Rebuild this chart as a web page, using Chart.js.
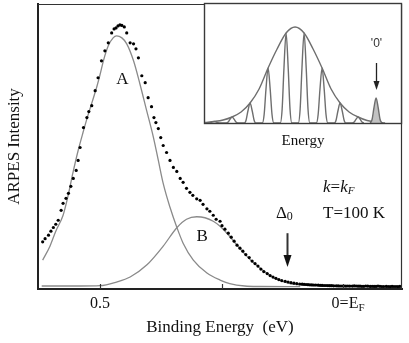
<!DOCTYPE html>
<html>
<head>
<meta charset="utf-8">
<script src="https://cdn.jsdelivr.net/npm/chart.js@4.4.1/dist/chart.umd.min.js"></script>
<style>
body { margin: 0; background: #fff; }
#wrap { position: relative; width: 409px; height: 343px; }
#main { position: absolute; left: 0; top: 0; }
#inset { position: absolute; left: 200px; top: 0; }
</style>
</head>
<body>
<div id="wrap">
  <canvas id="main" width="409" height="343"></canvas>
  <canvas id="inset" width="206" height="155"></canvas>
</div>
<script>
// measured ARPES spectrum, binding energy in eV (axis runs high -> low), intensity in arb. units
var dataBE = [0.618, 0.613, 0.606, 0.601, 0.596, 0.591, 0.586, 0.580, 0.576, 0.570, 0.565, 0.560, 0.555, 0.549, 0.545,
  0.541, 0.534, 0.527, 0.523, 0.517, 0.510, 0.504, 0.497, 0.490, 0.483, 0.476, 0.471, 0.467, 0.463, 0.459, 0.455,
  0.450, 0.445, 0.438, 0.431, 0.426, 0.421, 0.414, 0.407, 0.401, 0.394, 0.389, 0.385, 0.380, 0.375, 0.370, 0.363,
  0.356, 0.349, 0.342, 0.335, 0.329, 0.322, 0.315, 0.309, 0.301, 0.294, 0.288, 0.280, 0.274, 0.267, 0.261, 0.253,
  0.249, 0.243, 0.236, 0.230, 0.224, 0.218, 0.212, 0.206, 0.200, 0.193, 0.187, 0.181, 0.175, 0.169, 0.163, 0.156,
  0.150, 0.144, 0.138, 0.132, 0.126, 0.119, 0.113, 0.107, 0.101, 0.095,
  0.089, 0.084, 0.080, 0.076, 0.072, 0.068, 0.064, 0.060, 0.056, 0.051, 0.047, 0.043, 0.039, 0.035, 0.031, 0.027,
  0.023, 0.019, 0.014, 0.010, 0.006, 0.002, -0.002, -0.006, -0.010, -0.014, -0.019, -0.023, -0.027, -0.031,
  -0.035, -0.039, -0.043, -0.047, -0.051, -0.056, -0.060, -0.064, -0.068, -0.072, -0.076, -0.080, -0.084, -0.089,
  -0.093, -0.097, -0.101, -0.105, -0.109, -0.113, -0.117];
var dataI = [47.3, 50.5, 54, 58, 61.7, 65, 69, 79, 86, 91, 96, 103, 111, 119, 129,
  142, 162, 172, 178, 184, 199, 212, 229, 239, 247, 257, 261, 262, 264, 265, 264.5,
  263, 257, 247, 246, 241, 232, 214, 207, 192, 183, 172, 167, 161, 152, 144, 137,
  129, 122, 118, 111, 107, 101, 97, 94, 90.5, 89, 85, 80.5, 78, 74, 70, 68,
  63.5, 60, 56, 52, 48, 44, 41, 38, 34.5, 31.5, 28, 25.5, 23, 20, 17.5, 15.5,
  13.5, 12, 10.7, 9.5, 8.5, 7.7, 7, 6.3, 5.8, 5.4,
  5.0, 4.8, 4.7, 4.5, 4.3, 4.2, 4.1, 4.0, 4.0, 3.8, 3.7, 3.6, 3.5, 3.5, 3.4, 3.3,
  3.3, 3.2, 3.2, 3.1, 3.0, 3.0, 3.0, 2.9, 3.0, 2.9, 2.9, 3.1, 3.0, 2.8,
  2.8, 2.7, 2.7, 3.0, 2.8, 2.6, 2.7, 2.6, 2.6, 2.9, 2.7, 2.5, 2.5, 2.6,
  2.5, 2.4, 2.6, 2.5, 2.5, 2.4, 2.6];

// fitted component A (quasiparticle peak)
var fitABE = [0.618, 0.603, 0.591, 0.576, 0.566, 0.556, 0.545, 0.535, 0.525, 0.516, 0.506, 0.500, 0.493, 0.483,
  0.473, 0.466, 0.455, 0.445, 0.431, 0.418, 0.404, 0.390, 0.380, 0.370, 0.356, 0.342, 0.329, 0.308, 0.280,
  0.253, 0.233, 0.202, 0.171, 0.088];
var fitAI = [29, 43, 58, 74, 93, 116, 139, 157, 174, 188, 204, 215, 229, 244,
  252, 254, 252, 246, 229, 206, 179, 152, 129, 106, 82, 62, 46, 29, 16,
  9, 5.5, 3, 2.5, 2.3];

// fitted component B
var fitBBE = [0.620, 0.541, 0.500, 0.466, 0.438, 0.404, 0.370, 0.342, 0.322, 0.301, 0.284, 0.267, 0.253, 0.237,
  0.220, 0.202, 0.181, 0.160, 0.138, 0.109, 0.068, 0.006];
var fitBI = [3, 3, 3.3, 7, 12, 24, 43, 61.5, 70, 72.5, 71.5, 68, 63, 55,
  45, 35, 25, 17, 10, 5.5, 3.7, 3];

var xTicks = [0.5, 0.25, 0];
var xTickLabels = ['0.5', '', ''];

// inset: comb of peaks under a gaussian envelope
var peakPos = [-4.5, -3.5, -2.5, -1.5, -0.5, 0.5, 1.5, 2.5, 3.5];
var peakHeight = [1.5, 6, 20, 55, 90, 90, 55, 20, 6];
var zeroPeakPos = 4.5;
var zeroPeakHeight = 25;
var peakOffsets = [-0.32, -0.22, -0.12, 0, 0.12, 0.22, 0.32];
var peakProfile = [0, 0.15, 0.6, 1, 0.6, 0.15, 0];
var envX = [-5, -4.5, -4, -3.5, -3, -2.5, -2, -1.5, -1, -0.5, 0, 0.5, 1, 1.5, 2, 2.5, 3, 3.5, 4, 4.5, 5];
var envY = [0.5, 1.5, 3, 6, 11, 20, 34, 55, 74, 90, 96, 90, 74, 55, 34, 20, 11, 6, 2.5, 0.8, 0];

var SERIF = "'Liberation Serif', 'Times New Roman', serif";
var GREY = '#8a8a8a';
var INSET_GREY = '#6e6e6e';

function pts(xs, ys) {
  return xs.map(function (v, i) { return { x: v, y: ys[i] }; });
}

function peakPts(pos, h) {
  return peakOffsets.map(function (o, i) { return { x: pos + o, y: h * peakProfile[i] }; });
}

function drawPieces(ctx, x, y, pieces) {
  pieces.forEach(function (p) {
    ctx.font = p.font;
    ctx.fillText(p.t, x, y + (p.dy || 0));
    x += ctx.measureText(p.t).width;
  });
}

function arrowDown(ctx, x, y0, y1, shaft, headW, headH) {
  ctx.lineWidth = shaft;
  ctx.beginPath();
  ctx.moveTo(x, y0);
  ctx.lineTo(x, y1 - headH + 1);
  ctx.stroke();
  ctx.beginPath();
  ctx.moveTo(x - headW / 2, y1 - headH);
  ctx.lineTo(x + headW / 2, y1 - headH);
  ctx.lineTo(x, y1);
  ctx.closePath();
  ctx.fill();
}

var mainDecor = {
  id: 'mainDecor',
  afterDraw: function (chart) {
    var ctx = chart.ctx, a = chart.chartArea, sx = chart.scales.x, sy = chart.scales.y;
    ctx.save();
    ctx.strokeStyle = '#333';
    ctx.fillStyle = '#111';
    ctx.lineWidth = 1.2;
    ctx.beginPath();
    ctx.moveTo(a.left, a.top + 0.5);
    ctx.lineTo(a.right - 0.5, a.top + 0.5);
    ctx.lineTo(a.right - 0.5, a.bottom);
    ctx.stroke();

    xTicks.forEach(function (v) {
      var px = Math.round(sx.getPixelForValue(v)) + 0.5;
      ctx.beginPath();
      ctx.moveTo(px, a.bottom);
      ctx.lineTo(px, a.bottom - 5);
      ctx.stroke();
    });

    // 0=E_F tick label
    var p0 = sx.getPixelForValue(0);
    var ty = a.bottom + 15;
    ctx.textBaseline = 'middle';
    ctx.textAlign = 'left';
    ctx.font = '16px ' + SERIF;
    var w = ctx.measureText('0=E').width;
    drawPieces(ctx, p0 + 2 - w / 2, ty, [
      { t: '0=E', font: '16px ' + SERIF },
      { t: 'F', font: '11px ' + SERIF, dy: 4 }
    ]);

    ctx.textAlign = 'center';
    ctx.font = '17px ' + SERIF;
    ctx.fillText('A', sx.getPixelForValue(0.454), sy.getPixelForValue(210));
    ctx.fillText('B', sx.getPixelForValue(0.290), sy.getPixelForValue(53));

    ctx.textAlign = 'left';
    drawPieces(ctx, sx.getPixelForValue(0.138), sy.getPixelForValue(76), [
      { t: '\u0394', font: '17px ' + SERIF },
      { t: '0', font: '12px ' + SERIF, dy: 4 }
    ]);
    var ax = Math.round(sx.getPixelForValue(0.115)) + 0.5;
    arrowDown(ctx, ax, sy.getPixelForValue(56), sy.getPixelForValue(22), 2, 8, 12);

    var kx = sx.getPixelForValue(0.041);
    drawPieces(ctx, kx, sy.getPixelForValue(102), [
      { t: 'k', font: 'italic 17px ' + SERIF },
      { t: '=', font: '17px ' + SERIF },
      { t: 'k', font: 'italic 17px ' + SERIF },
      { t: 'F', font: 'italic 11px ' + SERIF, dy: 4 }
    ]);
    ctx.font = '17px ' + SERIF;
    ctx.fillText('T=100 K', kx, sy.getPixelForValue(76));
    ctx.restore();
  }
};

new Chart(document.getElementById('main'), {
  type: 'scatter',
  data: {
    datasets: [
      { data: pts(dataBE, dataI), pointRadius: 1.6, pointBorderWidth: 0, pointBackgroundColor: '#000', showLine: false },
      { data: pts(fitABE, fitAI), showLine: true, borderColor: GREY, borderWidth: 1.3, pointRadius: 0, cubicInterpolationMode: 'monotone' },
      { data: pts(fitBBE, fitBI), showLine: true, borderColor: GREY, borderWidth: 1.3, pointRadius: 0, cubicInterpolationMode: 'monotone' }
    ]
  },
  options: {
    responsive: false,
    animation: false,
    devicePixelRatio: 1,
    layout: { padding: { top: 3, right: 7, left: 0, bottom: 0 } },
    plugins: { legend: { display: false }, tooltip: { enabled: false } },
    scales: {
      x: {
        type: 'linear', reverse: true, min: -0.1214, max: 0.6276,
        grid: { display: false, drawTicks: false },
        border: { display: true, width: 2, color: '#222' },
        afterBuildTicks: function (s) { s.ticks = xTicks.map(function (v) { return { value: v }; }); },
        ticks: {
          padding: 5, maxRotation: 0, minRotation: 0, color: '#111',
          font: { family: SERIF, size: 16 },
          callback: function (v) { var i = xTicks.indexOf(v); return i >= 0 ? xTickLabels[i] : ''; }
        },
        title: { display: true, text: 'Binding Energy  (eV)', color: '#111', font: { family: SERIF, size: 17 }, padding: { top: 0, bottom: 5 } },
        afterFit: function (s) { s.height = 54; }
      },
      y: {
        min: 0, max: 286,
        grid: { display: false, drawTicks: false },
        border: { display: true, width: 2, color: '#222' },
        ticks: { display: false },
        title: { display: true, text: 'ARPES Intensity', color: '#111', font: { family: SERIF, size: 17 }, padding: { top: 4, bottom: 0 } },
        afterFit: function (s) { s.width = 38; }
      }
    }
  },
  plugins: [mainDecor]
});

var insetDecor = {
  id: 'insetDecor',
  beforeDraw: function (chart) {
    var a = chart.chartArea, ctx = chart.ctx;
    ctx.save();
    ctx.fillStyle = '#fff';
    ctx.fillRect(a.left, a.top, a.right - a.left, a.bottom - a.top);
    ctx.restore();
  },
  afterDraw: function (chart) {
    var a = chart.chartArea, ctx = chart.ctx, sx = chart.scales.x, sy = chart.scales.y;
    ctx.save();
    ctx.strokeStyle = '#3a3a3a';
    ctx.lineWidth = 1.4;
    ctx.strokeRect(a.left + 0.5, a.top + 0.5, a.right - a.left - 1, a.bottom - a.top);
    var px = Math.round(sx.getPixelForValue(zeroPeakPos)) + 0.5;
    ctx.strokeStyle = '#222';
    ctx.fillStyle = '#222';
    arrowDown(ctx, px, sy.getPixelForValue(60), sy.getPixelForValue(33), 1.3, 6, 9);
    ctx.font = "12px 'Liberation Sans', Arial, sans-serif";
    ctx.fillStyle = '#333';
    ctx.textAlign = 'center';
    ctx.textBaseline = 'middle';
    ctx.fillText("'0'", px, sy.getPixelForValue(79));
    ctx.restore();
  }
};

var combPts = [];
peakPos.forEach(function (p, i) { combPts = combPts.concat(peakPts(p, peakHeight[i])); });

new Chart(document.getElementById('inset'), {
  type: 'scatter',
  data: {
    datasets: [
      { data: peakPts(zeroPeakPos, zeroPeakHeight), showLine: true, fill: 'origin', backgroundColor: '#c2c2c2', borderColor: INSET_GREY, borderWidth: 1.4, pointRadius: 0, cubicInterpolationMode: 'monotone' },
      { data: combPts, showLine: true, borderColor: INSET_GREY, borderWidth: 1.4, pointRadius: 0, cubicInterpolationMode: 'monotone' },
      { data: pts(envX, envY), showLine: true, borderColor: INSET_GREY, borderWidth: 1.4, pointRadius: 0, cubicInterpolationMode: 'monotone' }
    ]
  },
  options: {
    responsive: false,
    animation: false,
    devicePixelRatio: 1,
    layout: { padding: { left: 4, top: 3, right: 4, bottom: 0 } },
    plugins: { legend: { display: false }, tooltip: { enabled: false } },
    scales: {
      x: {
        type: 'linear', min: -5.06, max: 5.94,
        grid: { display: false, drawTicks: false },
        border: { display: false },
        ticks: { display: false },
        title: { display: true, text: 'Energy', color: '#111', font: { family: SERIF, size: 15 }, padding: { top: 0, bottom: 5 } },
        afterFit: function (s) { s.height = 32; }
      },
      y: { min: 0, max: 120, display: false }
    }
  },
  plugins: [insetDecor]
});
</script>
</body>
</html>
